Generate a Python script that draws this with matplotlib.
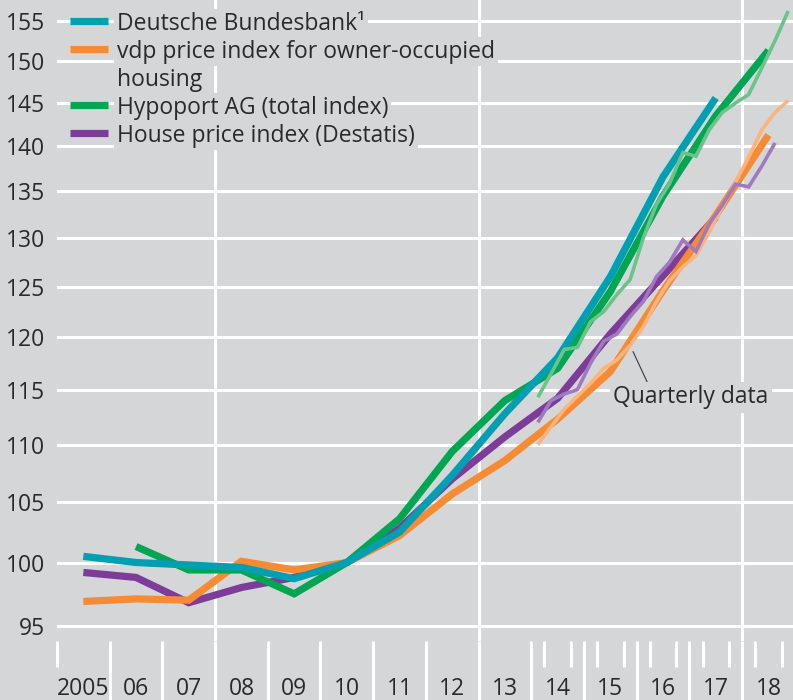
import matplotlib
matplotlib.use("Agg")
import matplotlib.pyplot as plt
from matplotlib.lines import Line2D
from matplotlib.ticker import NullLocator

plt.rcParams['font.family'] = ['Open Sans', 'DejaVu Sans']

# ------------------------------
# Data (2010 = 100, log scale)
# ------------------------------
years = list(range(2005, 2019))
year_labels = ["2005", "06", "07", "08", "09", "10", "11", "12", "13",
               "14", "15", "16", "17", "18"]

# annual values, plotted at mid-year
bundesbank = [100.5, 100.0, 99.8, 99.6, 98.7, 100.0, 102.5, 107.3, 112.8,
              118.0, 126.0, 136.6, 145.6]                    # 2005-2017
vdp = [96.9, 97.1, 97.0, 100.1, 99.4, 100.0, 102.2, 105.7, 108.6,
       112.3, 116.7, 124.6, 132.4, 141.3]                    # 2005-2018
hypoport = [101.3, 99.4, 99.4, 97.5, 100.0, 103.6, 109.4, 114.0,
            117.0, 124.5, 134.5, 143.5, 151.3]               # 2006-2018
destatis = [99.2, 98.8, 96.8, 98.0, 98.8, 100.0, 102.8, 107.0, 110.7,
            114.2, 120.3, 126.1, 132.2]                      # 2005-2017

# quarterly values from 2014 Q1, plotted at mid-quarter
hypoport_q = [114.3, 116.5, 118.8, 119.0, 121.5, 122.5, 124.2, 125.7,
              130.0, 133.6, 135.9, 139.3, 138.9, 141.9, 143.9, 145.0,
              146.0, 149.2, 152.5, 156.2]
vdp_q = [110.0, 111.6, 113.2, 114.4, 115.6, 117.0, 117.8, 119.2,
         121.0, 123.5, 125.6, 127.0, 128.2, 130.6, 133.3, 136.0,
         138.8, 141.9, 143.9, 145.3]
destatis_q = [112.0, 114.0, 114.6, 115.0, 117.5, 119.6, 120.3, 122.0,
              123.5, 126.0, 127.5, 129.8, 128.6, 131.5, 133.5, 135.8,
              135.5, 137.8, 140.4]

yticks = list(range(95, 160, 5))

# ------------------------------
# Style
# ------------------------------
bg = '#d5d6d8'
txt = '#2b2a2a'
teal, orange, green, purple = '#009fb1', '#f68b33', '#00a651', '#7d3c98'
l_orange, l_green, l_purple = '#fbb47e', '#6cc38a', '#a07abf'
fs = 16.5
W, H = 793, 700

fig = plt.figure(figsize=(W / 100, H / 100), dpi=100, facecolor=bg)
ax = fig.add_axes([57 / W, 59 / H, 736 / W, 641 / H], facecolor=bg)

mid = [y + 0.5 for y in years]
qx = [2014.125 + 0.25 * i for i in range(20)]

kw = dict(solid_capstyle='butt', solid_joinstyle='miter')
ax.plot(mid[:len(destatis)], destatis, color=purple, lw=5.2, zorder=3, **kw)
ax.plot(mid[:len(vdp)], vdp, color=orange, lw=5.2, zorder=3.1, **kw)
ax.plot(mid[1:1 + len(hypoport)], hypoport, color=green, lw=5.2, zorder=3.2, **kw)
ax.plot(mid[:len(bundesbank)], bundesbank, color=teal, lw=5.2, zorder=3.3, **kw)

ax.plot(qx[:len(vdp_q)], vdp_q, color=l_orange, lw=2.6, zorder=4, **kw)
ax.plot(qx[:len(destatis_q)], destatis_q, color=l_purple, lw=2.6, zorder=4, **kw)
ax.plot(qx[:len(hypoport_q)], hypoport_q, color=l_green, lw=2.6, zorder=4, **kw)

ax.set_yscale('log')
ax.set_ylim(93.85, 157.6)
ax.set_xlim(2005, 2018.966)
ax.set_yticks(yticks)
ax.set_yticklabels([str(v) for v in yticks])
ax.yaxis.set_minor_locator(NullLocator())
ax.tick_params(axis='y', length=0, pad=8.5, labelsize=fs, labelcolor=txt)
ax.grid(axis='y', color='white', lw=2.2)
ax.set_axisbelow(True)
for yr in [2008, 2013, 2018]:
    ax.axvline(yr, color='white', lw=2.2, zorder=0.5)
for s in ax.spines.values():
    s.set_visible(False)

# year labels between the ticks, short ticks for 2005 and quarters
ax.set_xticks(mid)
ax.set_xticklabels(year_labels)
short = [2005] + [y + q for y in range(2014, 2019) for q in (0.25, 0.5, 0.75)]
ax.set_xticks(short, minor=True)
ax.tick_params(axis='x', which='major', length=0, pad=26, labelsize=fs,
               labelcolor=txt)
ax.tick_params(axis='x', which='minor', length=18.7, width=2.2, color='white')

sec = ax.secondary_xaxis('bottom')
sec.set_xticks(years[1:])
sec.tick_params(axis='x', length=43, width=2.2, color='white', labelbottom=False)
sec.spines['bottom'].set_visible(False)

# legend
rows = [(20.7, teal, "Deutsche Bundesbank\u00b9"),
        (48.5, orange, "vdp price index for owner-occupied"),
        (104.5, green, "Hypoport AG (total index)"),
        (132.5, purple, "House price index (Destatis)")]
box = dict(boxstyle='square,pad=0.12', fc=bg, ec='none')
for yp, c, lab in rows:
    fig.add_artist(Line2D([70 / W, 108 / W], [1 - yp / H, 1 - yp / H],
                          color=c, lw=5.2, solid_capstyle='butt'))
    fig.text(117 / W, 1 - yp / H, lab, fontsize=fs, color=txt, ha='left',
             va='center_baseline', bbox=box)
fig.text(117 / W, 1 - 77 / H, "housing", fontsize=fs, color=txt, ha='left',
         va='center_baseline', bbox=box)

ax.annotate("Quarterly data", xy=(2015.93, 118.6), xytext=(2015.55, 114.3),
            ha='left', va='center', fontsize=fs, color=txt, zorder=6,
            bbox=dict(boxstyle='square,pad=0.15', fc=bg, ec='none'),
            arrowprops=dict(arrowstyle='-', color='#3a3a3a', lw=0.8,
                            shrinkA=0, shrinkB=0, relpos=(0.23, 1.0)))

fig.savefig("out.png", dpi=100, facecolor=bg)
